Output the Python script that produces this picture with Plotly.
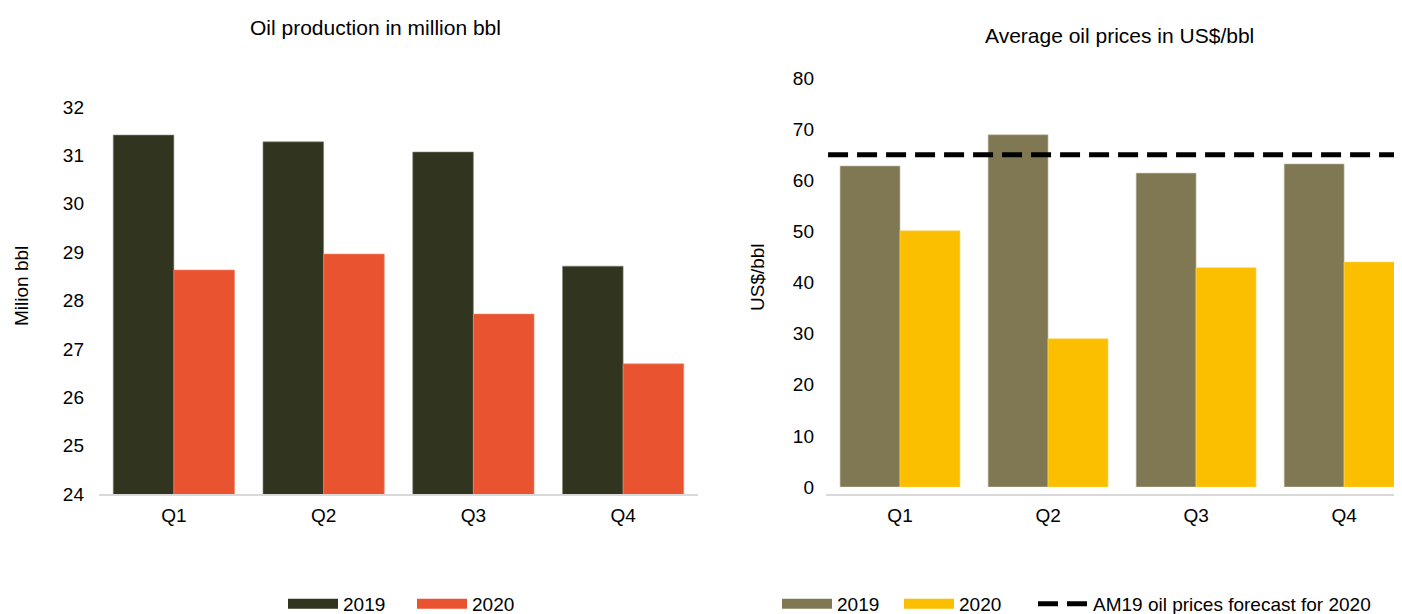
import plotly.graph_objects as go

quarters = ["Q1", "Q2", "Q3", "Q4"]
prod_2019 = [31.42, 31.28, 31.07, 28.71]
prod_2020 = [28.63, 28.96, 27.72, 26.69]
price_2019 = [62.8, 68.9, 61.4, 63.2]
price_2020 = [50.1, 29.0, 42.9, 44.0]
forecast_2020 = 65
forecast_span = [-0.486, 3.397]

xpos = list(range(len(quarters)))
W, H = 1402, 614
OFF = 8  # page body margin
FONT = "Liberation Sans"


def px(x):
    return (x - OFF) / W


def py(y):
    return 1 - (y - OFF) / H


fig = go.Figure()

# Left chart
fig.add_trace(go.Bar(x=xpos, y=prod_2019, marker=dict(color="#31351f", line=dict(color="#8c8c80", width=0.6)),
                     xaxis="x", yaxis="y", showlegend=False, name="2019"))
fig.add_trace(go.Bar(x=xpos, y=prod_2020, marker=dict(color="#e9532f", line=dict(color="#ee8a70", width=0.6)),
                     xaxis="x", yaxis="y", showlegend=False, name="2020"))
# Right chart
fig.add_trace(go.Bar(x=xpos, y=price_2019, marker=dict(color="#807853", line=dict(color="#c8c4b0", width=0.6)),
                     xaxis="x2", yaxis="y2", showlegend=False, name="2019"))
fig.add_trace(go.Bar(x=xpos, y=price_2020, marker=dict(color="#fbbf00", line=dict(color="#fcd466", width=0.6)),
                     xaxis="x2", yaxis="y2", showlegend=False, name="2020"))
fig.add_trace(go.Scatter(x=forecast_span, y=[forecast_2020, forecast_2020], mode="lines",
                         line=dict(color="black", width=5, dash="20px,9px"),
                         xaxis="x2", yaxis="y2", name="AM19 oil prices forecast for 2020",
                         legend="legend3"))

# Legend entries (wide swatches)
for i, (name, col, lg) in enumerate([("2019", "#31351f", "legend"), ("2020", "#e9532f", "legend"),
                                     ("2019", "#807853", "legend2"), ("2020", "#fbbf00", "legend2")]):
    fig.add_trace(go.Scatter(x=[None], y=[None], mode="lines", line=dict(color=col, width=10),
                             name=name, legend=lg, legendrank=1 + i % 2,
                             xaxis="x2" if lg == "legend2" else "x",
                             yaxis="y2" if lg == "legend2" else "y"))

axis_common = dict(showgrid=False, zeroline=False, ticks="",
                   tickfont=dict(size=19, color="#000", family=FONT))
leg_common = dict(orientation="h", y=py(604), yanchor="middle",
                  font=dict(size=19, family=FONT), itemwidth=50, traceorder="normal")

fig.update_layout(
    width=W, height=H,
    margin=dict(l=0, r=0, t=0, b=0, autoexpand=False),
    plot_bgcolor="white", paper_bgcolor="white",
    font=dict(family=FONT, color="#000"),
    bargap=0.19, bargroupgap=0,
    barmode="group",
    xaxis=dict(domain=[px(99), px(698)], range=[-0.5, 3.5], tickvals=xpos, ticktext=quarters,
               showline=True, linecolor="#d9d9d9", linewidth=2, ticklabelstandoff=3, **axis_common),
    yaxis=dict(domain=[py(494), py(107)], range=[24, 32], dtick=1, showline=False,
               ticklabelstandoff=14, **axis_common),
    xaxis2=dict(domain=[px(826), 1.0], range=[-0.5, 3.445], tickvals=xpos, ticktext=quarters,
                showline=True, linecolor="#d9d9d9", linewidth=2, ticklabelstandoff=3, **axis_common),
    yaxis2=dict(domain=[py(487), py(78)], range=[0, 80], dtick=10, showline=False,
                anchor="x2", ticklabelstandoff=11, **axis_common),
    legend=dict(x=px(412), xanchor="center", entrywidth=64, entrywidthmode="pixels", **leg_common),
    legend2=dict(x=px(777), xanchor="left", entrywidth=57, entrywidthmode="pixels", **leg_common),
    legend3=dict(x=px(1033), xanchor="left", **leg_common),
    annotations=[
        dict(text="Oil production in million bbl", x=px(375), y=py(27), xref="paper", yref="paper",
             xanchor="center", yanchor="middle", showarrow=False, font=dict(size=21, family=FONT)),
        dict(text="Average oil prices in US$/bbl", x=px(1119), y=py(35), xref="paper", yref="paper",
             xanchor="center", yanchor="middle", showarrow=False, font=dict(size=21, family=FONT)),
        dict(text="Milion bbl", x=px(21), y=py(286), xref="paper", yref="paper", textangle=-90,
             xanchor="center", yanchor="middle", showarrow=False, font=dict(size=19, family=FONT)),
        dict(text="US$/bbl", x=px(757), y=py(277), xref="paper", yref="paper", textangle=-90,
             xanchor="center", yanchor="middle", showarrow=False, font=dict(size=19, family=FONT)),
    ],
)

fig.write_html("out.html")
